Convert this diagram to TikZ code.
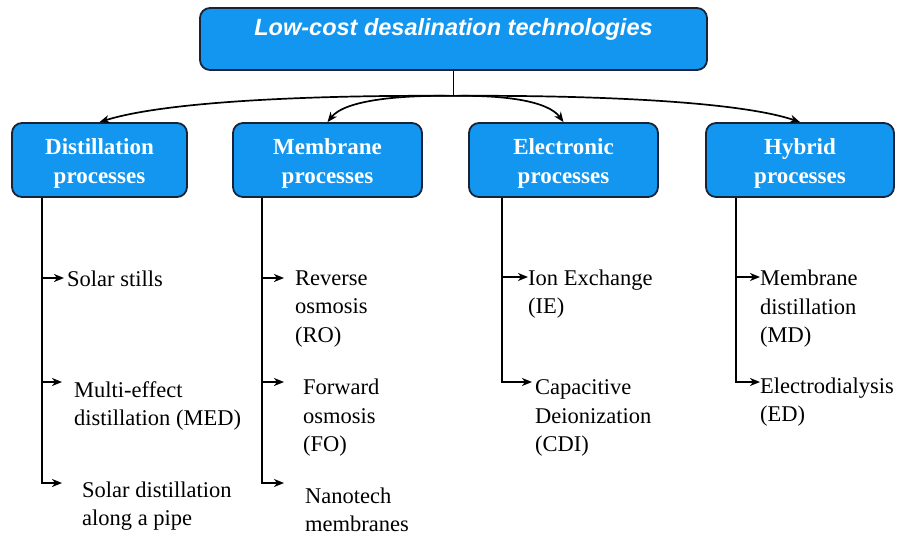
\documentclass[tikz,border=0pt]{standalone}
\usepackage{fontspec}
\setmainfont{Liberation Serif}
\newfontfamily\arialfont{Liberation Sans}
\usetikzlibrary{arrows.meta,calc}
\definecolor{boxblue}{RGB}{18,150,240}
\definecolor{boxedge}{RGB}{25,35,55}
\begin{document}
\begin{tikzpicture}[x=1pt,y=-1pt,
  catbox/.style={draw=boxedge, line width=1.8pt, fill=boxblue, rounded corners=10pt,
    text=white, align=center, inner sep=0pt,
    font=\fontsize{23}{29}\selectfont\bfseries},
  cat/.style={catbox, minimum height=74pt, text height=52pt, text depth=6pt},
  topbox/.style={catbox, font=\arialfont\bfseries\itshape\fontsize{23.5}{28}\selectfont,
    text height=22.5pt, text depth=30.5pt, inner ysep=4.5pt, minimum width=507pt, anchor=base},
  item/.style={anchor=west, inner sep=0pt, align=left,
    font=\fontsize{22.5}{28.5}\selectfont},
  conn/.style={line width=1.7pt, draw=black},
  arr/.style={conn, -{Stealth[length=10pt,width=8pt,inset=3pt]}}
]
\useasboundingbox (0,0) rectangle (906,536);

% top box
\node[topbox] (top) at (453.5,35) {Low-cost desalination technologies};

% category boxes
\node[cat, minimum width=175pt] (dist) at (99.5,160) {Distillation\\processes};
\node[cat, minimum width=189pt] (memb) at (327.5,160) {Membrane\\processes};
\node[cat, minimum width=189pt] (elec) at (563.5,160) {Electronic\\processes};
\node[cat, minimum width=188pt] (hyb) at (800,160) {Hybrid\\processes};

% trunk and branches
\coordinate (J) at ($(top.south)+(0,25)$);
\draw[conn] (top.south) -- (J);
\draw[arr] (J) .. controls (330,95) and (170,100) .. (dist.north);
\draw[arr] (J) .. controls (400,95) and (345,100) .. (memb.north);
\draw[arr] (J) .. controls (505,95) and (548,101) .. (elec.north);
\draw[arr] (J) .. controls (575,95) and (735,100) .. (hyb.north);

% Distillation items
\coordinate (dv) at ($(dist.south west)+(31,0)$);
\coordinate (da1) at (64,278);
\coordinate (da2) at (62,382);
\coordinate (da3) at (62,483);
\draw[arr] (dv) |- (da3);
\draw[arr] (dv |- da1) -- (da1);
\draw[arr] (dv |- da2) -- (da2);
\node[item] (d1) at (67,279) {Solar stills};
\node[item] (d2) at (74,406) {Multi-effect\\distillation (MED)};
\node[item] (d3) at (82,506) {Solar distillation\\along a pipe};

% Membrane items
\coordinate (mv) at ($(memb.south west)+(30,0)$);
\coordinate (ma1) at (284,278);
\coordinate (ma2) at (284,382);
\coordinate (ma3) at (284,483);
\draw[arr] (mv) |- (ma3);
\draw[arr] (mv |- ma1) -- (ma1);
\draw[arr] (mv |- ma2) -- (ma2);
\node[item] (m1) at (295,309) {Reverse\\osmosis\\(RO)};
\node[item] (m2) at (303,418) {Forward\\osmosis\\(FO)};
\node[item] (m3) at (305,510) {Nanotech\\membranes};

% Electronic items
\coordinate (ev) at ($(elec.south west)+(34,0)$);
\coordinate (ea1) at (528,277);
\coordinate (ea2) at (532,382);
\draw[arr] (ev) |- (ea2);
\draw[arr] (ev |- ea1) -- (ea1);
\node[item] (e1) at (528,294) {Ion Exchange\\(IE)};
\node[item] (e2) at (535,418) {Capacitive\\Deionization\\(CDI)};

% Hybrid items
\coordinate (hv) at ($(hyb.south west)+(31,0)$);
\coordinate (ha1) at (760,277);
\coordinate (ha2) at (760,382);
\draw[arr] (hv) |- (ha2);
\draw[arr] (hv |- ha1) -- (ha1);
\node[item] (h1) at (760,309) {Membrane\\distillation\\(MD)};
\node[item] (h2) at (760,402) {Electrodialysis\\(ED)};
\end{tikzpicture}
\end{document}
